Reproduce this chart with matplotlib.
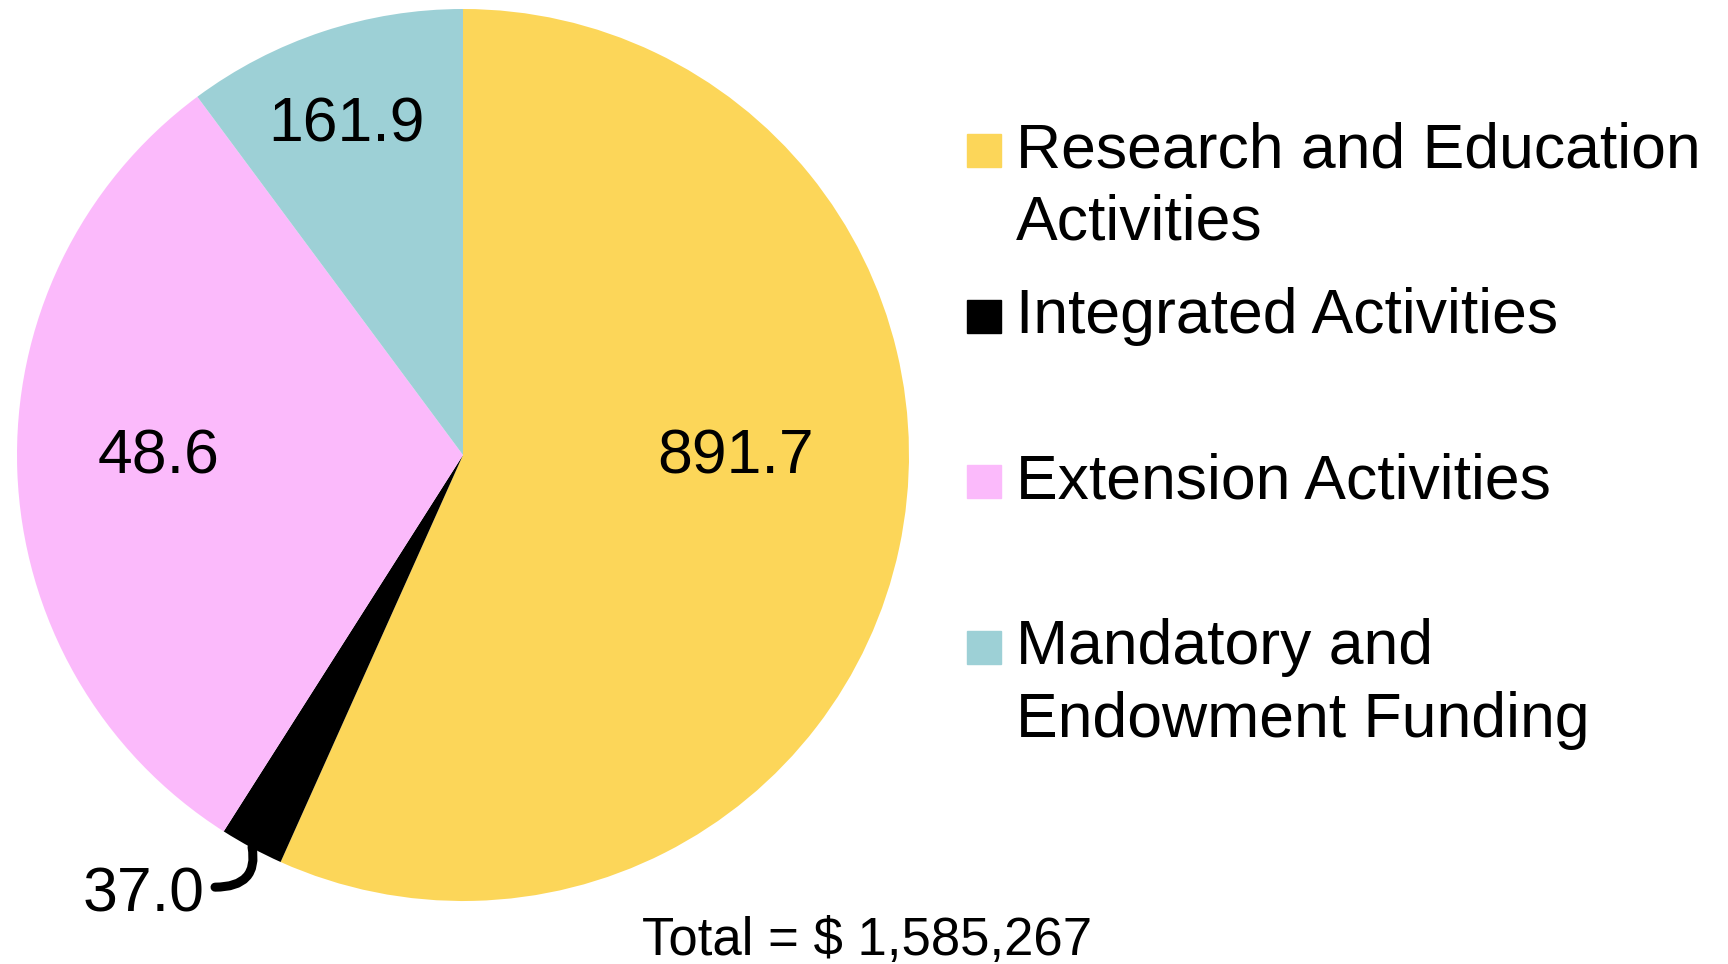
import matplotlib.pyplot as plt
from matplotlib.patches import Rectangle

# wedge sizes ($ thousands); the printed labels follow the source
categories = ["Research and Education\nActivities", "Integrated Activities",
              "Extension Activities", "Mandatory and\nEndowment Funding"]
values = [899.0, 36.6, 488.8, 161.0]
value_labels = ["891.7", "37.0", "48.6", "161.9"]
colors = ["#FCD659", "#000000", "#FBBAFB", "#9DD0D6"]
total_text = "Total = $ 1,585,267"

W, H = 1728, 964
fig = plt.figure(figsize=(W / 100, H / 100), dpi=100)
plt.rcParams['font.family'] = ['Liberation Sans', 'DejaVu Sans']

cx, cy, r = 463, 455, 446
ax = fig.add_axes([(cx - r) / W, (H - cy - r) / H, 2 * r / W, 2 * r / H])
ax.pie(values, colors=colors, startangle=90, counterclock=False,
       wedgeprops=dict(linewidth=0))
ax.set_xlim(-1, 1)
ax.set_ylim(-1, 1)
ax.set_aspect('equal')
ax.axis('off')

# label positions (data coords)
label_pos = [(0.612, -0.005), (-0.717, -0.987), (-0.682, -0.005), (-0.261, 0.741)]
for txt, pos in zip(value_labels, label_pos):
    ax.text(pos[0], pos[1], txt, ha='center', va='center', fontsize=45)

# curved leader for the small slice
ax.annotate('', xy=(-0.473, -0.879), xytext=(-0.556, -0.969),
            arrowprops=dict(arrowstyle='-', lw=6.5, color='black',
                            connectionstyle='angle3,angleA=0,angleB=100',
                            shrinkA=0, shrinkB=0))

# legend drawn by hand
first_baselines = [167, 333, 498, 664]
line_step = 73
for cat, col, yb in zip(categories, colors, first_baselines):
    fig.patches.append(Rectangle((967 / W, 1 - yb / H), 34 / W, 33 / H,
                                 transform=fig.transFigure, color=col))
    for i, line in enumerate(cat.split('\n')):
        fig.text(1016 / W, 1 - (yb + i * line_step) / H, line,
                 ha='left', va='baseline', fontsize=45)

fig.text(867 / W, 1 - 955 / H, total_text, ha='center', va='baseline', fontsize=38)

fig.savefig('out.png', dpi=100)
